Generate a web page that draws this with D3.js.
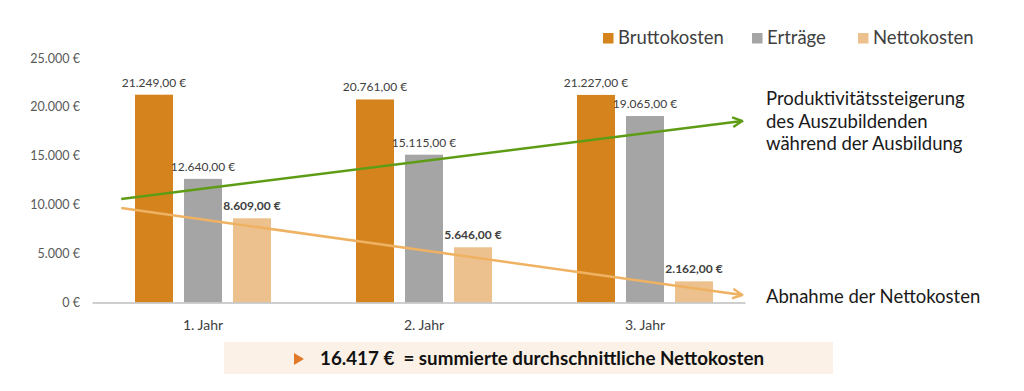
<!DOCTYPE html>
<html>
<head>
<meta charset="utf-8">
<script src="https://cdn.jsdelivr.net/npm/d3@7"></script>
<style>
  html, body { margin: 0; padding: 0; background: #fff; }
  svg { display: block; font-family: Lato, 'Open Sans', sans-serif; }
</style>
</head>
<body>
<svg id="chart" width="1024" height="391"></svg>
<script>
// Data
const years = ['1. Jahr', '2. Jahr', '3. Jahr'];
const seriesNames = ['Bruttokosten', 'Erträge', 'Nettokosten'];
const brutto = [21249, 20761, 21227];
const ertraege = [12640, 15115, 19065];
const netto = [8609, 5646, 2162];
const yTicks = [0, 5000, 10000, 15000, 20000, 25000];
// trend arrows: position in category units (0 = 1. Jahr), value in €
const trendUp = [{ pos: -0.37, value: 10580 }, { pos: 2.44, value: 18560 }];
const trendDown = [{ pos: -0.37, value: 9660 }, { pos: 2.44, value: 770 }];
const upLabel = ['Produktivitätssteigerung', 'des Auszubildenden', 'während der Ausbildung'];
const downLabel = ['Abnahme der Nettokosten'];
const summaryText = '16.417 €  = summierte durchschnittliche Nettokosten';

const colors = ['#d5841d', '#a5a5a5', '#ecc18d'];
const series = [brutto, ertraege, netto];

const svg = d3.select('#chart');

const de = d3.formatLocale({ decimal: ',', thousands: '.', grouping: [3], currency: ['', ' €'] });
const fmtTick = v => de.format(',.0f')(v) + ' €';
const fmtVal = v => de.format(',.2f')(v) + ' €';

// Scales
const y = d3.scaleLinear().domain([0, 25000]).range([302.5, 58]);
const x = d3.scaleBand().domain(years).range([92.5, 755.5]);
const xSub = d3.scaleBand().domain(seriesNames).range([-68, 68]).paddingInner(11 / 49);
const xPos = d3.scaleLinear().domain([0, 2]).range([x(years[0]) + x.bandwidth() / 2, x(years[2]) + x.bandwidth() / 2]);

// helper: squeeze text to a target width
function fit(sel, w) {
  sel.attr('textLength', w).attr('lengthAdjust', 'spacingAndGlyphs');
}

// Y axis labels
svg.append('g')
  .selectAll('text')
  .data(yTicks)
  .join('text')
    .attr('x', 80)
    .attr('y', d => y(d) + 4.5)
    .attr('text-anchor', 'end')
    .attr('font-size', 12.5)
    .attr('fill', '#595959')
    .text(fmtTick);

// Bars
const groups = svg.append('g')
  .selectAll('g')
  .data(years)
  .join('g')
    .attr('transform', d => `translate(${x(d) + x.bandwidth() / 2},0)`);

groups.selectAll('rect')
  .data((d, i) => series.map((s, k) => ({ name: seriesNames[k], value: s[i], k })))
  .join('rect')
    .attr('x', d => xSub(d.name))
    .attr('width', xSub.bandwidth())
    .attr('y', d => y(d.value))
    .attr('height', d => y(0) - y(d.value))
    .attr('fill', d => colors[d.k]);

groups.selectAll('text')
  .data((d, i) => series.map((s, k) => ({ name: seriesNames[k], value: s[i], k })))
  .join('text')
    .attr('x', d => xSub(d.name) + xSub.bandwidth() / 2)
    .attr('y', d => y(d.value) - 8)
    .attr('text-anchor', 'middle')
    .attr('font-size', 12)
    .attr('font-weight', d => d.k === 2 ? 'bold' : 'normal')
    .attr('fill', '#404040')
    .text(d => fmtVal(d.value));

// X axis line and labels
svg.append('line')
  .attr('x1', x.range()[0])
  .attr('x2', x.range()[1] - 10)
  .attr('y1', y(0) + 0.5)
  .attr('y2', y(0) + 0.5)
  .attr('stroke', '#bfbfbf')
  .attr('stroke-width', 1.5);

svg.append('g')
  .selectAll('text')
  .data(years)
  .join('text')
    .attr('x', d => x(d) + x.bandwidth() / 2)
    .attr('y', 330)
    .attr('text-anchor', 'middle')
    .attr('font-size', 14)
    .attr('fill', '#404040')
    .text(d => d);

// Arrow markers
const defs = svg.append('defs');
[['up', '#5f9c16'], ['down', '#efb162']].forEach(([id, c]) => {
  defs.append('marker')
    .attr('id', 'arrow-' + id)
    .attr('viewBox', '0 0 10 10')
    .attr('refX', 9)
    .attr('refY', 5)
    .attr('markerWidth', 12)
    .attr('markerHeight', 12)
    .attr('markerUnits', 'userSpaceOnUse')
    .attr('orient', 'auto')
    .append('path')
      .attr('d', 'M1,1 L9,5 L1,9')
      .attr('fill', 'none')
      .attr('stroke', c)
      .attr('stroke-width', 2);
});

const trendLine = d3.line().x(d => xPos(d.pos)).y(d => y(d.value));

svg.append('path')
  .attr('d', trendLine(trendDown))
  .attr('fill', 'none')
  .attr('stroke', '#efb162')
  .attr('stroke-width', 2.5)
  .attr('marker-end', 'url(#arrow-down)');

svg.append('path')
  .attr('d', trendLine(trendUp))
  .attr('fill', 'none')
  .attr('stroke', '#5f9c16')
  .attr('stroke-width', 2.5)
  .attr('marker-end', 'url(#arrow-up)');

// Annotations
svg.append('g')
  .selectAll('text')
  .data(upLabel)
  .join('text')
    .attr('x', 766)
    .attr('y', (d, i) => 105 + i * 22.5)
    .attr('font-size', 18.5)
    .attr('fill', '#1a1a1a')
    .text(d => d);

svg.append('text')
  .attr('x', 766)
  .attr('y', 303)
  .attr('font-size', 18.5)
  .attr('fill', '#1a1a1a')
  .text(downLabel[0]);

// Legend
const legendX = [603, 752, 858];
const legend = svg.append('g')
  .selectAll('g')
  .data(seriesNames)
  .join('g')
    .attr('transform', (d, i) => `translate(${legendX[i]},0)`);

legend.append('rect')
  .attr('y', 33)
  .attr('width', 10.5)
  .attr('height', 10.5)
  .attr('fill', (d, i) => colors[i]);

legend.append('text')
  .attr('x', 15)
  .attr('y', 44)
  .attr('font-size', 18.5)
  .attr('fill', '#404040')
  .text(d => d);

// Summary box
svg.append('rect')
  .attr('x', 224)
  .attr('y', 342)
  .attr('width', 609)
  .attr('height', 32)
  .attr('fill', '#fcf1e6');

svg.append('path')
  .attr('d', 'M294,353 L304,359 L294,365 Z')
  .attr('fill', '#e07a2a');

svg.append('text')
  .attr('x', 320)
  .attr('y', 365)
  .attr('font-size', 18)
  .attr('font-weight', 'bold')
  .attr('fill', '#111')
  .attr('xml:space', 'preserve')
  .style('white-space', 'pre')
  .text(summaryText)
  .call(fit, 444);
</script>
</body>
</html>
